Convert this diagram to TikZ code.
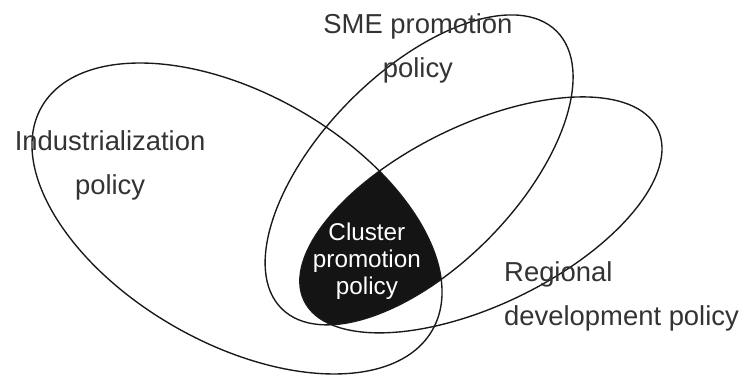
\documentclass[tikz,border=0pt]{standalone}
\usepackage{fontspec}
\setmainfont{Liberation Sans}
\begin{document}
\begin{tikzpicture}[
	policy/.style={line width=1.3pt, draw=black!90},
	lbl/.style={text=black!80, inner sep=0pt, font=\fontsize{26}{41.3}\selectfont},
	core/.style={text=white, inner sep=0pt, align=center, font=\fontsize{23}{25.6}\selectfont}]
	\useasboundingbox (0,0) rectangle (24.8,12.533);

	% ellipse centres
	\coordinate (indC) at (7.90,5.25);
	\coordinate (smeC) at (13.97,6.87);
	\coordinate (regC) at (16.03,5.37);

	% overlap of all three
	\begin{scope}
		\clip[shift={(indC)}, rotate=-29.7] (0,0) ellipse (7.50 and 4.16);
		\clip[shift={(smeC)}, rotate=45.3] (0,0) ellipse (6.51 and 3.26);
		\fill[black!92, shift={(regC)}, rotate=25.9] (0,0) ellipse (6.55 and 3.00);
	\end{scope}

	% policy ellipses
	\draw[policy, shift={(indC)}, rotate=-29.7] (0,0) ellipse (7.50 and 4.16);
	\draw[policy, shift={(smeC)}, rotate=45.3] (0,0) ellipse (6.51 and 3.26);
	\draw[policy, shift={(regC)}, rotate=25.9] (0,0) ellipse (6.55 and 3.00);

	% labels
	\node[lbl, align=center](indLabel) at (3.67,7.02){Industrialization\\policy};
	\node[lbl, align=center](smeLabel) at (13.93,10.92){SME promotion\\policy};
	\node[lbl, align=left, anchor=west](regLabel) at (16.80,2.65){Regional\\development policy};
	\node[core](clusterLabel) at (12.23,3.84){Cluster\\promotion\\policy};
\end{tikzpicture}
\end{document}
